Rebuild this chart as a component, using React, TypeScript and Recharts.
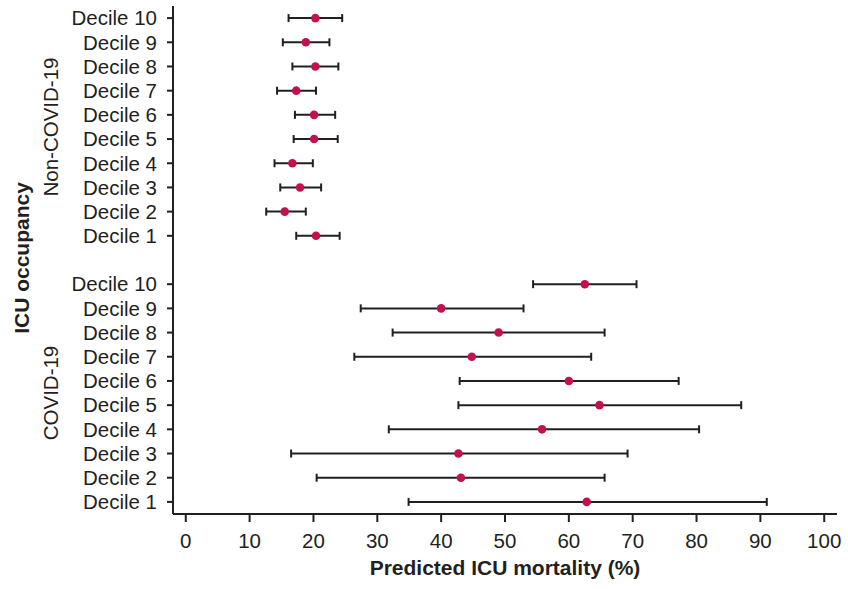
import React from "react";
import {
  ScatterChart,
  Scatter,
  XAxis,
  YAxis,
  ErrorBar,
} from "recharts";

// Decile labels, ordered Decile 1 .. Decile 10
const deciles = [
  "Decile 1", "Decile 2", "Decile 3", "Decile 4", "Decile 5",
  "Decile 6", "Decile 7", "Decile 8", "Decile 9", "Decile 10",
];

// COVID-19 ICU occupancy: predicted ICU mortality (%) with 95% CI
const covidMean = [62.8, 43.1, 42.7, 55.8, 64.8, 60.0, 44.8, 49.0, 40.0, 62.5];
const covidLow = [34.9, 20.5, 16.5, 31.8, 42.7, 42.9, 26.4, 32.4, 27.4, 54.4];
const covidHigh = [91.0, 65.6, 69.2, 80.4, 87.0, 77.2, 63.5, 65.6, 52.9, 70.6];

// Non-COVID-19 ICU occupancy
const nonCovidMean = [20.4, 15.5, 17.9, 16.7, 20.1, 20.1, 17.3, 20.3, 18.8, 20.3];
const nonCovidLow = [17.3, 12.6, 14.8, 13.9, 16.9, 17.1, 14.3, 16.7, 15.2, 16.1];
const nonCovidHigh = [24.1, 18.8, 21.2, 19.9, 23.8, 23.4, 20.4, 23.9, 22.5, 24.5];

const xTicks = [0, 10, 20, 30, 40, 50, 60, 70, 80, 90, 100];

const INK = "#231f20";
const DOT = "#c4104f";
const FONT = "'Liberation Sans', Arial, Helvetica, sans-serif";

// rows 0..9 = COVID-19, row 10 = gap, rows 11..20 = non-COVID-19
const rows = [
  ...deciles.map((name, i) => ({
    name,
    y: i,
    x: covidMean[i],
    err: [covidMean[i] - covidLow[i], covidHigh[i] - covidMean[i]],
  })),
  ...deciles.map((name, i) => ({
    name,
    y: 11 + i,
    x: nonCovidMean[i],
    err: [nonCovidMean[i] - nonCovidLow[i], nonCovidHigh[i] - nonCovidMean[i]],
  })),
];

const yTicks = rows.map((r) => r.y);
const labelFor = (v: number) => rows.find((r) => r.y === v)?.name ?? "";

const Dot = (props: any) => (
  <circle cx={props.cx} cy={props.cy} r={4.3} fill={DOT} />
);

export default function App() {
  return (
    <div style={{ position: "absolute", left: 0, top: 0, width: 848, height: 589, background: "#fff" }}>
      <ScatterChart
        width={848}
        height={589}
        margin={{ top: 6, right: 11, bottom: 0, left: 0 }}
      >
        <XAxis
          type="number"
          dataKey="x"
          domain={[-2, 102]}
          ticks={xTicks}
          interval={0}
          height={75}
          stroke={INK}
          strokeWidth={2}
          tickSize={8}
          tickMargin={11}
          tick={{ fill: INK, fontSize: 20.5, fontFamily: FONT }}
          label={{
            value: "Predicted ICU mortality (%)",
            position: "insideBottom",
            offset: 14,
            fill: INK,
            fontSize: 21,
            fontWeight: 700,
            fontFamily: FONT,
          }}
        />
        <YAxis
          type="number"
          dataKey="y"
          domain={[-0.5, 20.5]}
          ticks={yTicks}
          interval={0}
          width={173}
          stroke={INK}
          strokeWidth={2}
          tickSize={6}
          tickMargin={10}
          tickFormatter={labelFor}
          tick={{ fill: INK, fontSize: 20.5, fontFamily: FONT }}
        />
        <Scatter data={rows} shape={Dot} isAnimationActive={false}>
          <ErrorBar
            dataKey="err"
            direction="x"
            width={4}
            stroke={INK}
            strokeWidth={2}
            isAnimationActive={false}
          />
        </Scatter>
      </ScatterChart>
      <svg
        width={848}
        height={589}
        style={{ position: "absolute", left: 0, top: 0, pointerEvents: "none" }}
      >
        <text
          x={21}
          y={258}
          transform="rotate(-90 21 258)"
          textAnchor="middle"
          dominantBaseline="central"
          fill={INK}
          fontSize={21}
          fontWeight={700}
          fontFamily={FONT}
        >
          ICU occupancy
        </text>
        <text
          x={50}
          y={127}
          transform="rotate(-90 50 127)"
          textAnchor="middle"
          dominantBaseline="central"
          fill={INK}
          fontSize={20.5}
          fontFamily={FONT}
        >
          Non-COVID-19
        </text>
        <text
          x={50}
          y={393}
          transform="rotate(-90 50 393)"
          textAnchor="middle"
          dominantBaseline="central"
          fill={INK}
          fontSize={20.5}
          fontFamily={FONT}
        >
          COVID-19
        </text>
      </svg>
    </div>
  );
}
